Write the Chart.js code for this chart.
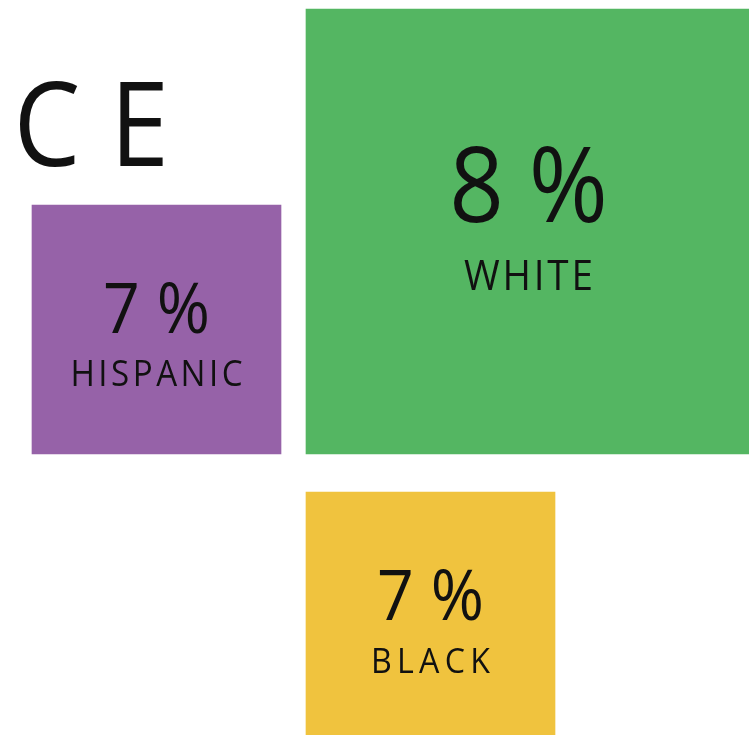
<!DOCTYPE html>
<html>
<head>
<meta charset="utf-8">
<title>Race</title>
<script src="https://cdn.jsdelivr.net/npm/chart.js@4.4.0/dist/chart.umd.min.js"></script>
<style>
    html, body { margin: 0; padding: 0; background: #fff; }
    #wrap { position: relative; width: 749px; height: 735px; overflow: hidden; }
</style>
</head>
<body>
<div id="wrap"><canvas id="chart"></canvas></div>
<script>
// ========================= //
//  Données                  //
// ========================= //
const categories = ["WHITE", "HISPANIC", "BLACK"];
const shares = [8, 7, 7];
const colors = ["#54b662", "#9662a8", "#f0c33e"];
const titleText = "CE";

// mise en page des carrés (repère en pixels du canvas)
const boxLeft = [306, 32, 306];
const boxRight = [751, 281, 555];
const boxTop = [9, 205, 492];
const boxBottom = [454, 454, 741];

// style des libellés : taille, décalage vertical, espacement
const valueSize = [104, 70, 70];
const valueDy = [-9.5, 3.5, 3.5];
const nameSize = [42, 36, 35];
const nameDy = [58.5, 56.5, 56.5];
const nameSpacing = [3, 3.8, 5.75];

const FONT = '"Open Sans", "Noto Sans", sans-serif';
const SQUEEZE = 0.92; // police plus étroite que Open Sans dans l'original

// texte centré, légèrement compressé horizontalement
function drawText(ctx, text, cx, y, size, spacing, sx) {
    ctx.save();
    ctx.translate(cx, y);
    ctx.scale(sx, 1);
    ctx.textAlign = "center";
    ctx.letterSpacing = spacing + "px";
    ctx.font = `${size}px ${FONT}`;
    ctx.fillText(text, spacing / 2, 0);
    ctx.restore();
}

// ========================= //
//  Plugin : textes          //
// ========================= //
const labelPlugin = {
    id: "squareLabels",
    afterDatasetsDraw(chart) {
        const ctx = chart.ctx;
        ctx.save();
        ctx.fillStyle = "#111";
        ctx.textBaseline = "alphabetic";

        chart.data.datasets.forEach((ds, i) => {
            const bar = chart.getDatasetMeta(i).data[0];
            const cx = bar.x;
            const cy = (bar.y + bar.base) / 2;

            drawText(ctx, shares[i] + " %", cx, cy + valueDy[i], valueSize[i], 0, SQUEEZE);
            drawText(ctx, categories[i], cx, cy + nameDy[i], nameSize[i], nameSpacing[i], SQUEEZE);
        });

        // titre coupé à gauche
        ctx.translate(13.5, 166);
        ctx.scale(0.9, 1);
        ctx.textAlign = "left";
        ctx.letterSpacing = "33px";
        ctx.font = `118px ${FONT}`;
        ctx.fillText(titleText, 0, 0);

        ctx.restore();
    }
};

// ========================= //
//  Graphique                //
// ========================= //
const datasets = categories.map((c, i) => ({
    label: c,
    data: [{ x: (boxLeft[i] + boxRight[i]) / 2, y: [boxTop[i], boxBottom[i]] }],
    backgroundColor: colors[i],
    borderWidth: 0,
    barThickness: boxRight[i] - boxLeft[i],
    grouped: false
}));

function draw() {
    new Chart(document.getElementById("chart").getContext("2d"), {
        type: "bar",
        data: { datasets },
        plugins: [labelPlugin],
        options: {
            responsive: true,
            maintainAspectRatio: false,
            animation: false,
            layout: { padding: 0 },
            plugins: {
                legend: { display: false },
                tooltip: { enabled: false },
                title: { display: false }
            },
            scales: {
                x: { type: "linear", min: 0, max: 749, offset: false, display: false },
                y: { type: "linear", min: 0, max: 735, reverse: true, display: false }
            }
        }
    });
}

document.fonts.load(`40px ${FONT}`).then(draw, draw);
</script>
</body>
</html>
